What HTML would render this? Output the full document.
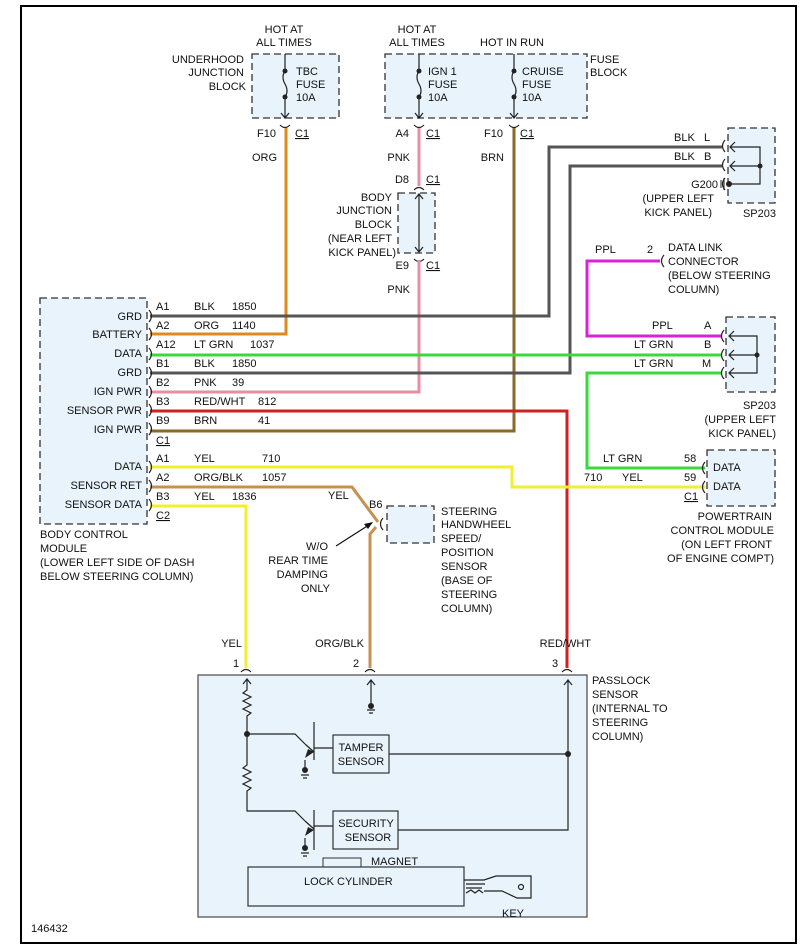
<!DOCTYPE html>
<html><head><meta charset="utf-8"><style>
html,body{margin:0;padding:0;background:#fff}
svg{display:block}
text{font-family:"Liberation Sans",sans-serif;font-size:11px;fill:#111}
.r{text-anchor:end}.m{text-anchor:middle}
.box{fill:#e8f3fb;stroke:#333;stroke-width:1.3;stroke-dasharray:7,4}
.w{fill:none;stroke-width:3}
.k{fill:none;stroke:#222;stroke-width:1.2}
</style></head><body>
<svg width="812" height="950" viewBox="0 0 812 950" xmlns="http://www.w3.org/2000/svg">
<rect x="21" y="6" width="775" height="937" fill="#fff" stroke="#000" stroke-width="2"/>

<!-- top fuse blocks -->
<text x="284" y="33" class="m">HOT AT</text><text x="284" y="46" class="m">ALL TIMES</text>
<text x="417" y="33" class="m">HOT AT</text><text x="417" y="46" class="m">ALL TIMES</text>
<text x="512" y="46" class="m">HOT IN RUN</text>
<rect x="252" y="54" width="87" height="64" class="box"/>
<text x="244" y="63" class="r">UNDERHOOD</text><text x="244" y="76" class="r">JUNCTION</text><text x="246" y="90" class="r">BLOCK</text>
<rect x="385" y="54" width="202" height="64" class="box"/>
<text x="590" y="63">FUSE</text><text x="590" y="76">BLOCK</text>
<g class="k">
<path d="M285 54V71M285 97V117M281 113l4 5 4-5"/><path d="M285 71q-4 6 0 13t0 13"/>
<path d="M419 54V71M419 97V117M415 113l4 5 4-5"/><path d="M419 71q-4 6 0 13t0 13"/>
<path d="M514 54V71M514 97V117M510 113l4 5 4-5"/><path d="M514 71q-4 6 0 13t0 13"/>
</g>
<g fill="#222"><circle cx="285" cy="71" r="2.5"/><circle cx="285" cy="97" r="2.5"/><circle cx="419" cy="71" r="2.5"/><circle cx="419" cy="97" r="2.5"/><circle cx="514" cy="71" r="2.5"/><circle cx="514" cy="97" r="2.5"/></g>
<text x="296" y="75">TBC</text><text x="296" y="88">FUSE</text><text x="296" y="101">10A</text>
<text x="428" y="75">IGN 1</text><text x="428" y="88">FUSE</text><text x="428" y="101">10A</text>
<text x="522" y="75">CRUISE</text><text x="522" y="88">FUSE</text><text x="522" y="101">10A</text>

<!-- connector labels -->
<g class="k"><path d="M280 125q5 5 10 0M414 125q5 5 10 0M509 125q5 5 10 0M414 190q5-5 10 0M414 259q5 5 10 0"/></g>
<text x="276" y="137" class="r">F10</text><text x="295" y="137" text-decoration="underline">C1</text>
<text x="409" y="137" class="r">A4</text><text x="426" y="137" text-decoration="underline">C1</text>
<text x="503" y="137" class="r">F10</text><text x="520" y="137" text-decoration="underline">C1</text>
<text x="277" y="161" class="r">ORG</text><text x="410" y="161" class="r">PNK</text><text x="504" y="161" class="r">BRN</text>
<text x="409" y="183" class="r">D8</text><text x="426" y="183" text-decoration="underline">C1</text>
<rect x="398" y="193" width="37" height="60" class="box"/>
<g class="k"><path d="M419 194V252M415 199l4-5 4 5M415 247l4 5 4-5"/></g>
<text x="392" y="201" class="r">BODY</text><text x="392" y="214" class="r">JUNCTION</text><text x="392" y="228" class="r">BLOCK</text><text x="392" y="242" class="r">(NEAR LEFT</text><text x="396" y="256" class="r">KICK PANEL)</text>
<text x="409" y="269" class="r">E9</text><text x="426" y="269" text-decoration="underline">C1</text>
<text x="410" y="293" class="r">PNK</text>

<!-- wires -->
<path class="w" stroke="#e08a1e" d="M286 128V334H150"/>
<path class="w" stroke="#e58fa6" d="M419 128V186M419 260V392H150"/>
<path class="w" stroke="#8a6a2a" d="M514 128V431H150"/>
<path class="w" stroke="#555" stroke-width="2.5" d="M722 147H549V316H150"/>
<path class="w" stroke="#555" stroke-width="2.5" d="M722 166H570V373H150"/>
<path class="w" stroke="#d822d8" d="M660 261H587V336H722"/>
<path class="w" stroke="#3bd83b" d="M150 355H722"/>
<path class="w" stroke="#3bd83b" d="M722 373H587V468H705"/>
<path class="w" stroke="#cc2222" stroke-width="2.5" d="M150 411H567V668"/>
<path class="w" stroke="#f2ee30" d="M150 467H512V487H705"/>
<path class="w" stroke="#c89050" d="M150 487H352L378 522M376 527L370 534V668"/>
<path class="w" stroke="#f2ee30" d="M150 506H246V668"/>

<!-- SP203 upper -->
<rect x="728" y="128" width="47" height="75" class="box"/>
<g class="k"><path d="M725 140q-5 6 0 12M725 159q-5 6 0 12M725 178q-5 6 0 12M730 147H760V184H730M730 166H760M735 142l-5 5 5 5M735 161l-5 5 5 5"/></g>
<circle cx="760" cy="166" r="2.5" fill="#222"/><circle cx="729" cy="184" r="3" fill="#222"/>
<path d="M724 178V190M721 180V188" stroke="#222"/>
<text x="674" y="141">BLK</text><text x="704" y="141">L</text>
<text x="674" y="160">BLK</text><text x="704" y="160">B</text>
<text x="718" y="188" class="r">G200</text>
<text x="714" y="202" class="r">(UPPER LEFT</text><text x="712" y="216" class="r">KICK PANEL)</text>
<text x="776" y="217" class="r">SP203</text>

<!-- DLC -->
<path class="k" d="M664 255q-5 6 0 12"/>
<text x="595" y="253">PPL</text><text x="647" y="253">2</text>
<text x="668" y="251">DATA LINK</text><text x="668" y="265">CONNECTOR</text><text x="668" y="279">(BELOW STEERING</text><text x="668" y="293">COLUMN)</text>

<!-- SP203 lower -->
<rect x="726" y="317" width="49" height="75" class="box"/>
<g class="k"><path d="M724 330q-5 6 0 12M724 349q-5 6 0 12M724 367q-5 6 0 12M729 336H757V373H729M729 355H757M734 331l-5 5 5 5M734 350l-5 5 5 5M734 368l-5 5 5 5"/></g>
<circle cx="757" cy="355" r="2.5" fill="#222"/>
<text x="652" y="329">PPL</text><text x="704" y="329">A</text>
<text x="634" y="348">LT GRN</text><text x="704" y="348">B</text>
<text x="634" y="367">LT GRN</text><text x="702" y="367">M</text>
<text x="776" y="409" class="r">SP203</text><text x="776" y="423" class="r">(UPPER LEFT</text><text x="776" y="437" class="r">KICK PANEL)</text>

<!-- PCM -->
<rect x="707" y="450" width="68" height="56" class="box"/>
<g class="k"><path d="M705 462q-5 6 0 12M705 481q-5 6 0 12"/></g>
<text x="713" y="471">DATA</text><text x="713" y="490">DATA</text>
<text x="603" y="462">LT GRN</text><text x="684" y="462">58</text>
<text x="584" y="481">710</text><text x="622" y="481">YEL</text><text x="684" y="481">59</text>
<text x="684" y="500" text-decoration="underline">C1</text>
<text x="772" y="520" class="r">POWERTRAIN</text><text x="774" y="534" class="r">CONTROL MODULE</text><text x="772" y="548" class="r">(ON LEFT FRONT</text><text x="774" y="562" class="r">OF ENGINE COMPT)</text>

<!-- BCM -->
<rect x="40" y="298" width="107" height="226" class="box"/>
<g class="k"><path d="M149 310q5 6 0 12M149 328q5 6 0 12M149 348q5 6 0 12M149 367q5 6 0 12M149 386q5 6 0 12M149 404q5 6 0 12M149 423q5 6 0 12M149 461q5 6 0 12M149 480q5 6 0 12M149 499q5 6 0 12"/></g>
<text x="142" y="320" class="r">GRD</text><text x="142" y="338" class="r">BATTERY</text><text x="142" y="357" class="r">DATA</text><text x="142" y="376" class="r">GRD</text><text x="142" y="395" class="r">IGN PWR</text><text x="142" y="414" class="r">SENSOR PWR</text><text x="142" y="433" class="r">IGN PWR</text><text x="142" y="470" class="r">DATA</text><text x="142" y="489" class="r">SENSOR RET</text><text x="142" y="508" class="r">SENSOR DATA</text>
<text x="156" y="310">A1</text><text x="194" y="310">BLK</text><text x="232" y="310">1850</text>
<text x="156" y="329">A2</text><text x="194" y="329">ORG</text><text x="232" y="329">1140</text>
<text x="156" y="348">A12</text><text x="194" y="348">LT GRN</text><text x="250" y="348">1037</text>
<text x="156" y="367">B1</text><text x="194" y="367">BLK</text><text x="232" y="367">1850</text>
<text x="156" y="386">B2</text><text x="194" y="386">PNK</text><text x="232" y="386">39</text>
<text x="156" y="405">B3</text><text x="194" y="405">RED/WHT</text><text x="258" y="405">812</text>
<text x="156" y="424">B9</text><text x="194" y="424">BRN</text><text x="258" y="424">41</text>
<text x="156" y="444" text-decoration="underline">C1</text>
<text x="156" y="462">A1</text><text x="194" y="462">YEL</text><text x="262" y="462">710</text>
<text x="156" y="481">A2</text><text x="194" y="481">ORG/BLK</text><text x="262" y="481">1057</text>
<text x="156" y="500">B3</text><text x="194" y="500">YEL</text><text x="232" y="500">1836</text>
<text x="156" y="519" text-decoration="underline">C2</text>
<text x="40" y="538">BODY CONTROL</text><text x="40" y="552">MODULE</text><text x="40" y="566">(LOWER LEFT SIDE OF DASH</text><text x="40" y="580">BELOW STEERING COLUMN)</text>

<!-- steering sensor -->
<text x="328" y="499">YEL</text><text x="369" y="508">B6</text>
<rect x="387" y="506" width="47" height="37" class="box"/>
<path class="k" d="M383 518q-5 6 0 12"/>
<path d="M336 546L372 523" stroke="#111" stroke-width="1.2"/><path d="M373 522l-9 2 4 5z" fill="#111"/>
<text x="441" y="515">STEERING</text><text x="441" y="528">HANDWHEEL</text><text x="441" y="542">SPEED/</text><text x="441" y="556">POSITION</text><text x="441" y="570">SENSOR</text><text x="441" y="584">(BASE OF</text><text x="441" y="598">STEERING</text><text x="441" y="612">COLUMN)</text>
<text x="328" y="550" class="r">W/O</text><text x="328" y="564" class="r">REAR TIME</text><text x="328" y="578" class="r">DAMPING</text><text x="330" y="592" class="r">ONLY</text>

<!-- passlock -->
<text x="242" y="647" class="r">YEL</text><text x="364" y="647" class="r">ORG/BLK</text><text x="591" y="647" class="r">RED/WHT</text>
<text x="233" y="667">1</text><text x="353" y="667">2</text><text x="552" y="667">3</text>
<rect x="198" y="675" width="389" height="242" fill="#e8f3fb" stroke="#555" stroke-width="1.3"/>
<g class="k"><path d="M241 672q5-5 10 0M365 672q5-5 10 0M562 672q5-5 10 0"/></g>
<text x="592" y="684">PASSLOCK</text><text x="592" y="698">SENSOR</text><text x="592" y="712">(INTERNAL TO</text><text x="592" y="726">STEERING</text><text x="592" y="740">COLUMN)</text>
<g class="k">
<path d="M247 680V690l-4 3 8 4-8 4 8 4-8 4 8 4-4 3V765l-4 3 8 4-8 4 8 4-8 4 8 4-4 3V811H295l10 10"/>
<path d="M243 684l4-5 4 5"/>
<path d="M247 734H295l10 10"/>
<path d="M314 722V760M314 748H333M305 744l9 8"/>
<path d="M305 760V770M301 775h8M303 778h4"/>
<path d="M314 810V850M314 826H333M305 821l9 8"/>
<path d="M305 838V848M301 853h8M303 856h4"/>
<path d="M371 681V704M367 685l4-5 4 5M367 710h8M369 713h4"/>
<path d="M568 681V830H398M389 754H568M564 685l4-5 4 5"/>
</g>
<g fill="#222"><circle cx="247" cy="734" r="3"/><circle cx="568" cy="754" r="3"/><circle cx="305" cy="770" r="3"/><circle cx="305" cy="848" r="3"/><circle cx="371" cy="706" r="3"/>
<path d="M314 752l-9 6 3-9z"/><path d="M314 830l-9 6 3-9z"/></g>
<rect x="333" y="735" width="56" height="38" fill="#e8f3fb" stroke="#333" stroke-width="1.2"/>
<text x="361" y="751" class="m">TAMPER</text><text x="361" y="765" class="m">SENSOR</text>
<rect x="333" y="811" width="65" height="38" fill="#e8f3fb" stroke="#333" stroke-width="1.2"/>
<text x="366" y="827" class="m">SECURITY</text><text x="368" y="841" class="m">SENSOR</text>
<rect x="323" y="858" width="38" height="9" fill="#e8f3fb" stroke="#333"/>
<text x="371" y="865">MAGNET</text>
<rect x="248" y="867" width="216" height="39" fill="#e8f3fb" stroke="#333" stroke-width="1.2"/>
<text x="304" y="885">LOCK CYLINDER</text>
<g class="k"><path d="M464 880H484l12-4H531V898H517l-15-7H484M466 884H485M466 888H482M466 893l5-3 4 3 4-3 4 3"/><circle cx="521" cy="887" r="2.5"/></g>
<text x="502" y="917">KEY</text>

<text x="31" y="932">146432</text>
</svg>
</body></html>
